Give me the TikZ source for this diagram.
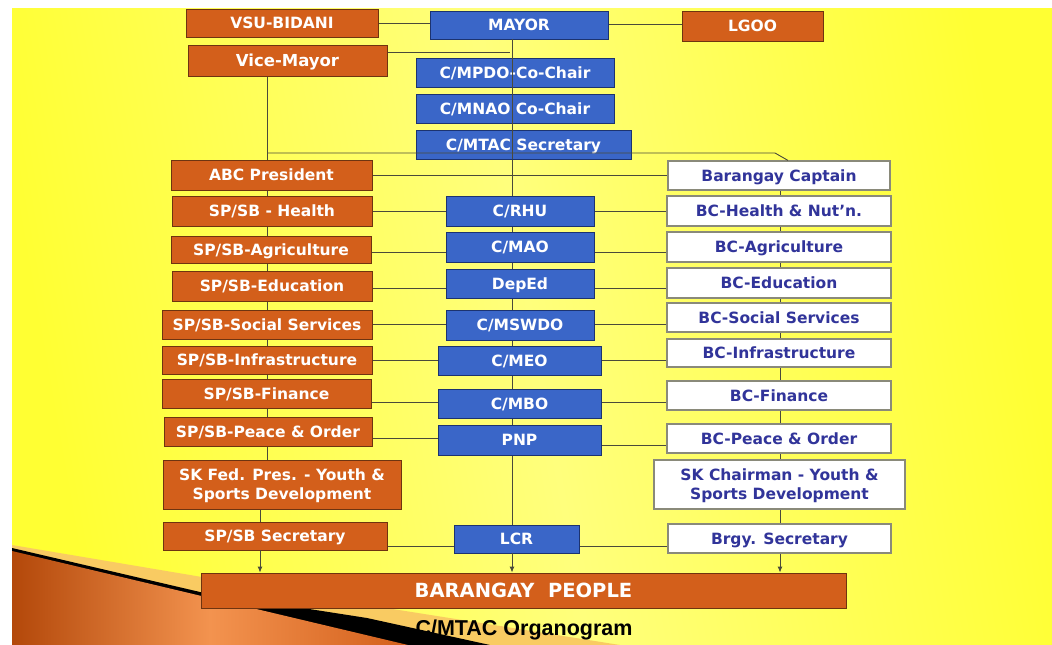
\documentclass[tikz,border=0pt]{standalone}
\usepackage{fontspec}
\setmainfont{DejaVu Sans}
\newfontfamily\titlefont{Liberation Sans}
\usetikzlibrary{arrows.meta,calc}
\pgfdeclarelayer{bg}
\pgfdeclarelayer{lines}
\pgfsetlayers{bg,lines,main}
\definecolor{orgbox}{HTML}{D35F1B}
\definecolor{orgedge}{HTML}{6E3410}
\definecolor{blubox}{HTML}{3A66C8}
\definecolor{bluedge}{HTML}{1C3370}
\definecolor{whtedge}{HTML}{8A8A7A}
\definecolor{navytext}{HTML}{31349A}
\definecolor{linec}{HTML}{4A4A3A}
\definecolor{yelA}{HTML}{FFFF33}
\definecolor{yelB}{HTML}{FFFF7C}
\definecolor{paleorg}{HTML}{F9CB62}
\definecolor{orgdark}{HTML}{B3480A}
\definecolor{orglight}{HTML}{F3934F}
\begin{document}
\begin{tikzpicture}[x=1pt,y=-1pt,
  box/.style={rectangle, inner sep=0pt, align=center, text height=11.3pt, text depth=0pt,
    font=\bfseries\fontsize{15.5}{19.5}\selectfont},
  twoline/.style={text height=30.8pt, text depth=0pt},
  obox/.style={box, fill=orgbox, draw=orgedge, line width=0.9pt, text=white},
  bbox/.style={box, fill=blubox, draw=bluedge, line width=0.9pt, text=white},
  wbox/.style={box, fill=white, draw=whtedge, line width=1.1pt, text=navytext},
  conn/.style={draw=linec, line width=0.9pt},
  arr/.style={conn, -{Latex[length=6pt,width=5pt]}}]
\useasboundingbox (0,0) rectangle (1052,645);

% ---------- background ----------
\begin{pgfonlayer}{bg}
\fill[white] (0,0) rectangle (1052,645);
\shade[left color=yelA, right color=yelA, middle color=yelB, shading angle=100]
  (12,8) rectangle (1052,645);
\fill[paleorg] (12,545) -- (380,607) -- (620,645) -- (12,645) -- cycle;
\fill[black] (12,548) -- (200,592) -- (367,618) -- (490,645) -- (12,645) -- cycle;
\shade[left color=orgdark, right color=orgbox, middle color=orglight]
  (12,551) -- (408,645) -- (12,645) -- cycle;
\end{pgfonlayer}

% ---------- top ----------
\node[obox, minimum width=192pt, minimum height=28pt] (vsu) at (282,23) {VSU-BIDANI};
\node[bbox, minimum width=178pt, minimum height=28pt] (mayor) at (519,25) {MAYOR};
\node[obox, minimum width=141pt, minimum height=30pt] (lgoo) at (752.5,26) {LGOO};
\node[obox, minimum width=199pt, minimum height=31pt, text height=12pt, font=\bfseries\fontsize{16.5}{19}\selectfont] (vice) at (287.5,60.5) {Vice-Mayor};
\node[bbox, minimum width=198pt, minimum height=29pt] (mpdo) at (515,72.5) {C/MPDO-Co-Chair};
\node[bbox, minimum width=198pt, minimum height=29pt] (mnao) at (515,108.5) {C/MNAO Co-Chair};
\node[bbox, minimum width=215pt, minimum height=29pt] (mtac) at (523.5,144.5) {C/MTAC Secretary};

% ---------- left column ----------
\node[obox, minimum width=201pt, minimum height=30pt] (abc) at (271.5,175) {ABC President};
\node[obox, minimum width=200pt, minimum height=30pt] (lhealth) at (272,211) {SP/SB - Health};
\node[obox, minimum width=200pt, minimum height=27pt] (lagri) at (271,249.5) {SP/SB-Agriculture};
\node[obox, minimum width=200pt, minimum height=30pt] (ledu) at (272,286) {SP/SB-Education};
\node[obox, minimum width=210pt, minimum height=29pt] (lsoc) at (267,324.5) {SP/SB-Social Services};
\node[obox, minimum width=210pt, minimum height=28pt] (linfra) at (267,360) {SP/SB-Infrastructure};
\node[obox, minimum width=209pt, minimum height=29pt] (lfin) at (266.5,393.5) {SP/SB-Finance};
\node[obox, minimum width=208pt, minimum height=29pt] (lpeace) at (268,431.5) {SP/SB-Peace \& Order};
\node[obox, twoline, minimum width=238pt, minimum height=49pt] (lsk) at (282,484.5) {SK Fed. Pres. - Youth \&\\Sports Development};
\node[obox, minimum width=224pt, minimum height=28pt] (lsec) at (275,536) {SP/SB Secretary};

% ---------- center column ----------
\node[bbox, minimum width=148pt, minimum height=30pt] (rhu) at (520,211) {C/RHU};
\node[bbox, minimum width=148pt, minimum height=30pt] (mao) at (520,247) {C/MAO};
\node[bbox, minimum width=148pt, minimum height=29pt] (deped) at (520,283.5) {DepEd};
\node[bbox, minimum width=148pt, minimum height=30pt] (mswdo) at (520,325) {C/MSWDO};
\node[bbox, minimum width=163pt, minimum height=29pt] (meo) at (519.5,360.5) {C/MEO};
\node[bbox, minimum width=163pt, minimum height=29pt] (mbo) at (519.5,403.5) {C/MBO};
\node[bbox, minimum width=163pt, minimum height=30pt] (pnp) at (519.5,440) {PNP};
\node[bbox, minimum width=125pt, minimum height=28pt] (lcr) at (516.5,539) {LCR};

% ---------- right column ----------
\node[wbox, minimum width=222pt, minimum height=29pt] (bcap) at (779,175.5) {Barangay Captain};
\node[wbox, minimum width=224pt, minimum height=30pt] (rhealth) at (779,211) {BC-Health \& Nut’n.};
\node[wbox, minimum width=224pt, minimum height=30pt] (ragri) at (779,247) {BC-Agriculture};
\node[wbox, minimum width=224pt, minimum height=30pt] (redu) at (779,283) {BC-Education};
\node[wbox, minimum width=224pt, minimum height=29pt] (rsoc) at (779,317.5) {BC-Social Services};
\node[wbox, minimum width=224pt, minimum height=28pt] (rinfra) at (779,353) {BC-Infrastructure};
\node[wbox, minimum width=224pt, minimum height=29pt] (rfin) at (779,395.5) {BC-Finance};
\node[wbox, minimum width=224pt, minimum height=29pt] (rpeace) at (779,438.5) {BC-Peace \& Order};
\node[wbox, twoline, minimum width=251pt, minimum height=49pt] (rsk) at (779.5,484.5) {SK Chairman - Youth \&\\Sports Development};
\node[wbox, minimum width=223pt, minimum height=29pt] (rsec) at (779.5,538.5) {Brgy. Secretary};

% ---------- bottom ----------
\node[obox, minimum width=645pt, minimum height=35pt, text height=14.2pt, font=\bfseries\fontsize{19.5}{22}\selectfont] (people) at (523.5,590.5) {BARANGAY\ \ PEOPLE};
\node[inner sep=0pt, text height=15.4pt, text depth=0pt, font=\titlefont\bfseries\fontsize{21.5}{24}\selectfont] (title) at (524,628) {C/MTAC Organogram};

% ---------- helper coordinates ----------
\coordinate (cvx) at (512,0);
\coordinate (lvx) at (267,0);
\coordinate (lvx2) at (260,0);
\coordinate (rvx) at (780,0);
\coordinate (jl) at (267,153);
\coordinate (jr) at (775,153);
\coordinate (jv) at (510,52);

% ---------- connectors behind boxes ----------
\begin{pgfonlayer}{lines}
\draw[conn] (vsu.east) -- (vsu.east -| mayor.west);
\draw[conn] (mayor.east |- 0,24) -- (lgoo.west |- 0,24);
\draw[conn] (vice.east |- jv) -- (jv);
\draw[conn] (mtac.south -| cvx) -- (lcr.north -| cvx);
\draw[conn] (vice.south -| lvx) -- (lsk.north -| lvx);
\draw[conn] (lsk.south -| lvx2) -- (lsec.north -| lvx2);
\draw[conn] (bcap.south -| rvx) -- (rsec.north -| rvx);
\draw[conn] (abc.east) -- (abc.east -| bcap.west);
% rows
\draw[conn] (lhealth.east |- 0,211) -- (rhu.west |- 0,211);
\draw[conn] (rhu.east |- 0,211) -- (rhealth.west |- 0,211);
\draw[conn] (lagri.east |- 0,252) -- (mao.west |- 0,252);
\draw[conn] (mao.east |- 0,252) -- (ragri.west |- 0,252);
\draw[conn] (ledu.east |- 0,288) -- (deped.west |- 0,288);
\draw[conn] (deped.east |- 0,288) -- (redu.west |- 0,288);
\draw[conn] (lsoc.east |- 0,324) -- (mswdo.west |- 0,324);
\draw[conn] (mswdo.east |- 0,324) -- (rsoc.west |- 0,324);
\draw[conn] (linfra.east |- 0,360) -- (meo.west |- 0,360);
\draw[conn] (meo.east |- 0,360) -- (rinfra.west |- 0,360);
\draw[conn] (lfin.east |- 0,402) -- (mbo.west |- 0,402);
\draw[conn] (mbo.east |- 0,402) -- (rfin.west |- 0,402);
\draw[conn] (lpeace.east |- 0,438) -- (pnp.west |- 0,438);
\draw[conn] (pnp.east |- 0,445) -- (rpeace.west |- 0,445);
\draw[conn] (lsec.east |- 0,546) -- (lcr.west |- 0,546);
\draw[conn] (lcr.east |- 0,546) -- (rsec.west |- 0,546);
\end{pgfonlayer}

% ---------- connectors drawn over boxes ----------
\draw[conn] (mayor.south -| cvx) -- (mtac.south -| cvx);
\draw[conn] (jl) -- (jr) -- ([xshift=9pt]bcap.north);
\draw[arr] (lsec.south -| lvx2) -- (people.north -| lvx2);
\draw[arr] (lcr.south -| cvx) -- (people.north -| cvx);
\draw[arr] (rsec.south -| rvx) -- (people.north -| rvx);
\end{tikzpicture}
\end{document}
